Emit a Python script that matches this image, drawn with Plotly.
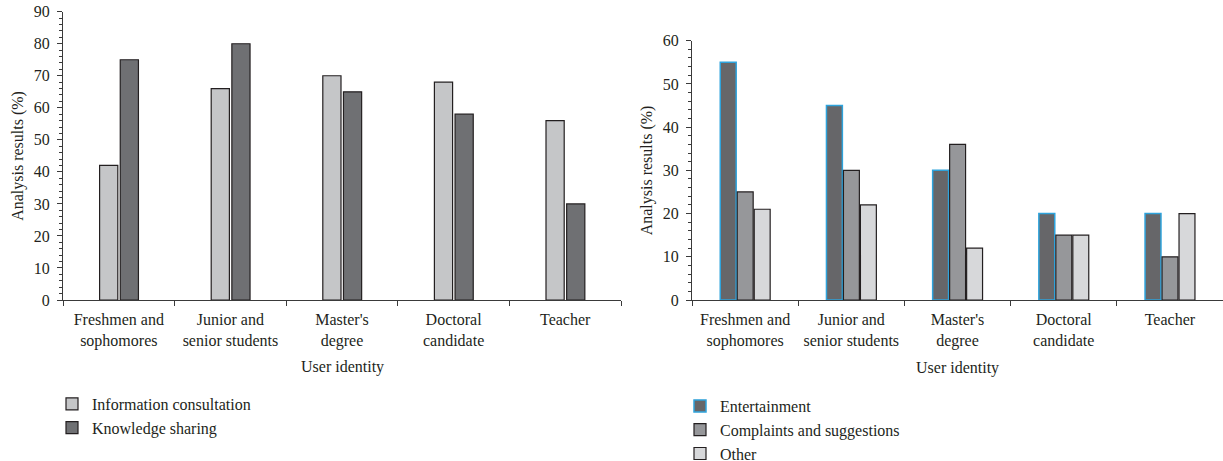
import plotly.graph_objects as go

categories = ["Freshmen and<br>sophomores", "Junior and<br>senior students", "Master's<br>degree",
              "Doctoral<br>candidate", "Teacher"]

left_info = [42, 66, 70, 68, 56]
left_know = [75, 80, 65, 58, 30]

right_ent = [55, 45, 30, 20, 20]
right_comp = [25, 30, 36, 15, 10]
right_other = [21, 22, 12, 15, 20]

# The body margin is removed after drawing, so the figure starts at the window's corner.
OFF = 0
W = 1223
H = 500                 # taller than the window so the legends never push the margins
FONT = "Liberation Serif, Tinos, DejaVu Serif, serif"
TXT = "#231f20"
OUT = "#231f20"
AX = "#3a3a3a"

def px_x(p):
    return (p - OFF) / W

def px_y(p):
    return 1 - (p - OFF) / H

fig = go.Figure()

# Left chart
fig.add_trace(go.Bar(x=categories, y=left_info, name="Information consultation",
                     marker=dict(color="#c5c6c8", line=dict(color=OUT, width=1.2)),
                     width=0.163, offset=-0.172, xaxis="x", yaxis="y", legend="legend"))
fig.add_trace(go.Bar(x=categories, y=left_know, name="Knowledge sharing",
                     marker=dict(color="#6f7073", line=dict(color=OUT, width=1.2)),
                     width=0.163, offset=0.013, xaxis="x", yaxis="y", legend="legend"))

# Right chart
fig.add_trace(go.Bar(x=categories, y=right_ent, name="Entertainment",
                     marker=dict(color="#666669", line=dict(color="#2ea3dc", width=1.5)),
                     width=0.15, offset=-0.234, xaxis="x2", yaxis="y2", legend="legend2"))
fig.add_trace(go.Bar(x=categories, y=right_comp, name="Complaints and suggestions",
                     marker=dict(color="#96979a", line=dict(color=OUT, width=1.2)),
                     width=0.15, offset=-0.074, xaxis="x2", yaxis="y2", legend="legend2"))
fig.add_trace(go.Bar(x=categories, y=right_other, name="Other",
                     marker=dict(color="#d7d8da", line=dict(color=OUT, width=1.2)),
                     width=0.15, offset=0.086, xaxis="x2", yaxis="y2", legend="legend2"))

xcommon = dict(type="category", showline=True, linecolor=AX, linewidth=1.2,
               ticks="outside", tickson="boundaries", ticklen=5, tickcolor=AX,
               tickfont=dict(family=FONT, size=16, color=TXT), showgrid=False,
               automargin=False, zeroline=False, ticklabelstandoff=5)
ycommon = dict(showline=True, linecolor=AX, linewidth=1.2, ticks="outside",
               ticklen=5, tickcolor=AX, dtick=10,
               minor=dict(dtick=2, ticks="outside", ticklen=3, tickcolor=AX, showgrid=False),
               tickfont=dict(family=FONT, size=16, color=TXT), showgrid=False,
               zeroline=False, automargin=False, ticklabelstandoff=4,
               ticklabeloverflow="allow")

fig.update_layout(
    width=W, height=H,
    margin=dict(l=0, r=0, t=0, b=0),
    plot_bgcolor="white", paper_bgcolor="white",
    barmode="overlay",
    font=dict(family=FONT, size=16, color=TXT),
    xaxis=dict(domain=[px_x(63), px_x(621)], anchor="y", **xcommon),
    yaxis=dict(domain=[px_y(300), px_y(11.7)], anchor="x", range=[0, 90], **ycommon),
    xaxis2=dict(domain=[px_x(692), 1.0], anchor="y2", **xcommon),
    yaxis2=dict(domain=[px_y(300), px_y(40.7)], anchor="x2", range=[0, 60], **ycommon),
    legend=dict(x=px_x(52), y=px_y(387), xanchor="left", yanchor="top",
                font=dict(family=FONT, size=16, color=TXT), bgcolor="rgba(0,0,0,0)",
                traceorder="normal"),
    legend2=dict(x=px_x(680), y=px_y(389), xanchor="left", yanchor="top",
                 font=dict(family=FONT, size=16, color=TXT), bgcolor="rgba(0,0,0,0)",
                 traceorder="normal"),
    showlegend=True,
)

annotations = [
    dict(text="Analysis results (%)", textangle=-90, x=px_x(18), y=0.5, xref="paper", yref="y domain",
         xanchor="center", yanchor="middle",
         showarrow=False, font=dict(family=FONT, size=16, color=TXT)),
    dict(text="Analysis results (%)", textangle=-90, x=px_x(647), y=0.5, xref="paper", yref="y2 domain",
         xanchor="center", yanchor="middle",
         showarrow=False, font=dict(family=FONT, size=16, color=TXT)),
    dict(text="User identity", x=0.5, y=px_y(367), xref="x domain", yref="paper",
         xanchor="center", yanchor="middle",
         showarrow=False, font=dict(family=FONT, size=16, color=TXT)),
    dict(text="User identity", x=0.5, y=px_y(368), xref="x2 domain", yref="paper",
         xanchor="center", yanchor="middle",
         showarrow=False, font=dict(family=FONT, size=16, color=TXT)),
]
fig.update_layout(annotations=annotations)

fig.write_html("out.html", config={"displayModeBar": False},
               post_script="document.body.style.margin='0px';")
